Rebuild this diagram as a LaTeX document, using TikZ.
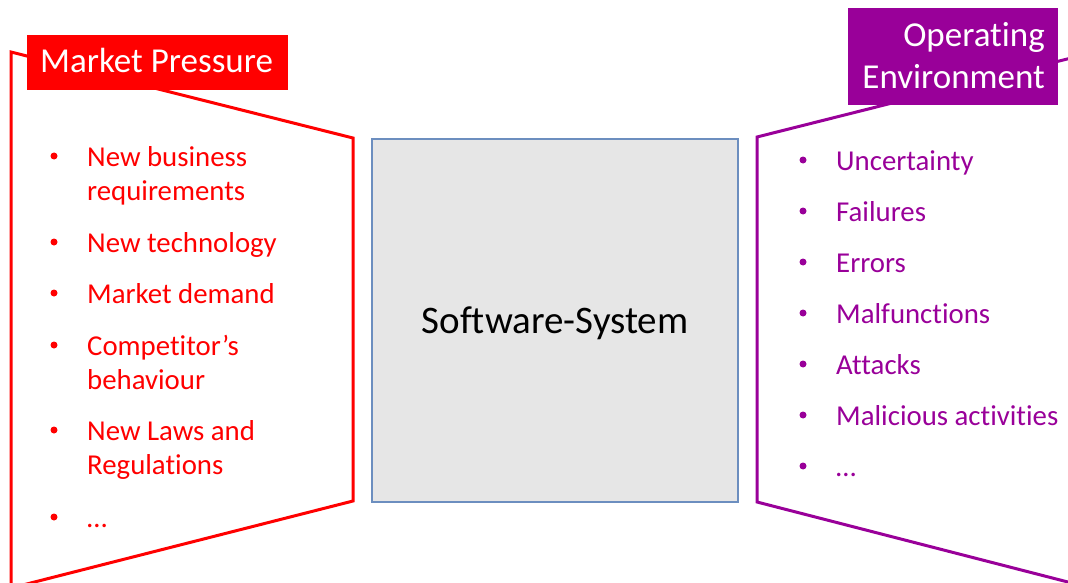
\documentclass[tikz,border=0pt]{standalone}
\usepackage{fontspec}
\setmainfont{Carlito}[Ligatures=NoCommon]
\definecolor{mpred}{HTML}{FF0000}
\definecolor{oepurple}{HTML}{990099}
\definecolor{sysfill}{HTML}{E6E6E6}
\definecolor{sysborder}{HTML}{6C8EBF}
\tikzset{
  frameline/.style={line width=3pt, line join=miter},
  labeltext/.style={inner sep=0pt, text=white, font=\fontsize{35}{42}\selectfont},
  itemtext/.style={anchor=base west, inner sep=0pt, text=#1, font=\fontsize{28.8}{34}\selectfont},
  bulletdot/.style={circle, fill=#1, inner sep=0pt, minimum size=7pt},
  sysbox/.style={draw=sysborder, fill=sysfill, line width=1.5pt, inner sep=0pt},
}
\begin{document}
\begin{tikzpicture}[x=1pt, y=-1pt]
\useasboundingbox (0,0) rectangle (1068,583);
\clip (0,0) rectangle (1068,583);
% left frame
\coordinate (l1) at (11,52);
\coordinate (l2) at (353,138);
\coordinate (l3) at (353,501);
\coordinate (l4) at (11,588);
\draw[frameline, draw=mpred] (l1) -- (l2) -- (l3) -- (l4) -- cycle;
% right frame
\coordinate (r1) at (757,137);
\coordinate (r2) at (1099,51);
\coordinate (r3) at (1099,590);
\coordinate (r4) at (757,502);
\draw[frameline, draw=oepurple] (r1) -- (r2) -- (r3) -- (r4) -- cycle;
% labels
\fill[mpred] (27,35) rectangle (288,90);
\node[labeltext, anchor=base west] (mp) at (40,73) {Market Pressure};
\fill[oepurple] (848,8) rectangle (1058,105);
\node[labeltext, anchor=base east] (oe1) at (1045,47) {Operating};
\node[labeltext, anchor=base east] (oe2) at (1045,89) {Environment};
% system box
\node[sysbox, minimum width=366pt, minimum height=363pt] (sys) at (555,320.5) {};
\node[anchor=base, inner sep=0pt, font=\fontsize{39}{46}\selectfont] (systxt) at (555,333) {Software-System};
% left items
\foreach \y/\t/\b [count=\i] in {166/New business/1, 200/requirements/0, 252/New technology/1, 303/Market demand/1, 355/Competitor’s/1, 389/behaviour/0, 440/New Laws and/1, 474/Regulations/0, 527/…/1} {
  \node[itemtext=mpred] (li\i) at (87,\y) {\t};
  \ifnum\b=1 \node[bulletdot=mpred] (lb\i) at (54,\y-10) {}; \fi
}
% right items
\foreach \y/\t [count=\i] in {170/Uncertainty, 221/Failures, 272/Errors, 323/Malfunctions, 374/Attacks, 425/Malicious activities, 476/…} {
  \node[itemtext=oepurple] (ri\i) at (836,\y) {\t};
  \node[bulletdot=oepurple] (rb\i) at (803,\y-10) {};
}
\end{tikzpicture}
\end{document}
